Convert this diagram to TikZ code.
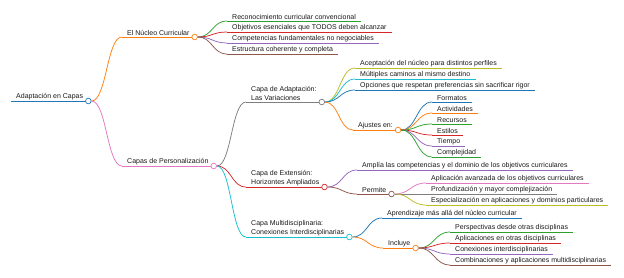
\documentclass[tikz,border=0pt]{standalone}
\usepackage{fontspec}
\setmainfont{Liberation Sans}
\usetikzlibrary{calc}
\definecolor{cB}{HTML}{1F77B4}
\definecolor{cO}{HTML}{FF7F0E}
\definecolor{cG}{HTML}{2CA02C}
\definecolor{cR}{HTML}{D62728}
\definecolor{cP}{HTML}{9467BD}
\definecolor{cBr}{HTML}{8C564B}
\definecolor{cPk}{HTML}{E377C2}
\definecolor{cGy}{HTML}{7F7F7F}
\definecolor{cOl}{HTML}{BCBD22}
\definecolor{cC}{HTML}{17BECF}
\tikzset{
 lbl/.style={font=\fontsize{7}{9}\selectfont, inner xsep=5pt, inner ysep=1.3pt, anchor=south west, align=left, text=black!90},
 dot/.style={circle, draw=#1, fill=white, line width=0.7pt, minimum size=5.6pt, inner sep=0pt},
 ul/.style={draw=#1, line width=0.75pt},
 link/.style={draw=#1, line width=0.75pt, to path={let \p1=(\tikztostart), \p2=(\tikztotarget) in .. controls ({0.5*\x1+0.5*\x2},\y1) and ({0.5*\x1+0.5*\x2},\y2) .. (\tikztotarget)}},
}
\begin{document}
\begin{tikzpicture}[x=1pt,y=-1pt]
\useasboundingbox (0,0) rectangle (624,277);
% nodes
\node[lbl] (root) at (11,101) {Adaptación en Capas};
\node[lbl] (nuc) at (122,37) {El Núcleo Curricular};
\node[lbl] (r1) at (227,21) {Reconocimiento curricular convencional};
\node[lbl] (r2) at (227,32) {Objetivos esenciales que TODOS deben alcanzar};
\node[lbl] (r3) at (227,43) {Competencias fundamentales no negociables};
\node[lbl] (r4) at (227,54) {Estructura coherente y completa};
\node[lbl] (cap) at (122,166) {Capas de Personalización};
\node[lbl] (ada) at (246,102) {Capa de Adaptación:\\Las Variaciones};
\node[lbl] (a1) at (355,68) {Aceptación del núcleo para distintos perfiles};
\node[lbl] (a2) at (355,79) {Múltiples caminos al mismo destino};
\node[lbl] (a3) at (355,90) {Opciones que respetan preferencias sin sacrificar rigor};
\node[lbl] (aju) at (353,130) {Ajustes en:};
\node[lbl] (f1) at (432,102) {Formatos};
\node[lbl] (f2) at (432,113) {Actividades};
\node[lbl] (f3) at (432,124) {Recursos};
\node[lbl] (f4) at (432,135) {Estilos};
\node[lbl] (f5) at (432,146) {Tiempo};
\node[lbl] (f6) at (432,157) {Complejidad};
\node[lbl] (ext) at (246,187) {Capa de Extensión:\\Horizontes Ampliados};
\node[lbl] (e1) at (357,170) {Amplía las competencias y el dominio de los objetivos curriculares};
\node[lbl] (per) at (357,194) {Permite};
\node[lbl] (p1) at (426,183) {Aplicación avanzada de los objetivos curriculares};
\node[lbl] (p2) at (426,194) {Profundización y mayor complejización};
\node[lbl] (p3) at (426,205) {Especialización en aplicaciones y dominios particulares};
\node[lbl] (mul) at (246,237) {Capa Multidisciplinaria:\\Conexiones Interdisciplinarias};
\node[lbl] (m1) at (382,218) {Aprendizaje más allá del núcleo curricular};
\node[lbl] (inc) at (383,248) {Incluye};
\node[lbl] (i1) at (450,232) {Perspectivas desde otras disciplinas};
\node[lbl] (i2) at (450,243) {Aplicaciones en otras disciplinas};
\node[lbl] (i3) at (450,254) {Conexiones interdisciplinarias};
\node[lbl] (i4) at (450,265) {Combinaciones y aplicaciones multidisciplinarias};
% underlines
\foreach \n/\c in {root/cB,nuc/cO,r1/cG,r2/cR,r3/cP,r4/cBr,cap/cPk,ada/cGy,a1/cOl,a2/cC,a3/cB,aju/cO,f1/cB,f2/cO,f3/cG,f4/cR,f5/cP,f6/cG,ext/cR,e1/cP,per/cBr,p1/cPk,p2/cGy,p3/cOl,mul/cC,m1/cB,inc/cO,i1/cG,i2/cR,i3/cP,i4/cBr}
  \draw[ul=\c] (\n.south west) -- (\n.south east);
% circles
\node[dot=cB] (c0) at (root.south east) {};
\node[dot=cO] (c1) at (nuc.south east) {};
\node[dot=cPk] (c2) at (cap.south east) {};
\node[dot=cGy] (c3) at (ada.south east) {};
\node[dot=cO] (c4) at (aju.south east) {};
\node[dot=cR] (c5) at (ext.south east) {};
\node[dot=cBr] (c6) at (per.south east) {};
\node[dot=cC] (c7) at (mul.south east) {};
\node[dot=cO] (c8) at (inc.south east) {};
% links
\draw[link=cO] (c0.east) to (nuc.south west);
\draw[link=cPk] (c0.east) to (cap.south west);
\draw[link=cG] (c1.east) to (r1.south west);
\draw[link=cR] (c1.east) to (r2.south west);
\draw[link=cP] (c1.east) to (r3.south west);
\draw[link=cBr] (c1.east) to (r4.south west);
\draw[link=cGy] (c2.east) to (ada.south west);
\draw[link=cR] (c2.east) to (ext.south west);
\draw[link=cC] (c2.east) to (mul.south west);
\draw[link=cOl] (c3.east) to (a1.south west);
\draw[link=cC] (c3.east) to (a2.south west);
\draw[link=cB] (c3.east) to (a3.south west);
\draw[link=cO] (c3.east) to (aju.south west);
\draw[link=cB] (c4.east) to (f1.south west);
\draw[link=cO] (c4.east) to (f2.south west);
\draw[link=cG] (c4.east) to (f3.south west);
\draw[link=cR] (c4.east) to (f4.south west);
\draw[link=cP] (c4.east) to (f5.south west);
\draw[link=cG] (c4.east) to (f6.south west);
\draw[link=cP] (c5.east) to (e1.south west);
\draw[link=cBr] (c5.east) to (per.south west);
\draw[link=cPk] (c6.east) to (p1.south west);
\draw[link=cGy] (c6.east) to (p2.south west);
\draw[link=cOl] (c6.east) to (p3.south west);
\draw[link=cB] (c7.east) to (m1.south west);
\draw[link=cO] (c7.east) to (inc.south west);
\draw[link=cG] (c8.east) to (i1.south west);
\draw[link=cR] (c8.east) to (i2.south west);
\draw[link=cP] (c8.east) to (i3.south west);
\draw[link=cBr] (c8.east) to (i4.south west);
\end{tikzpicture}
\end{document}
